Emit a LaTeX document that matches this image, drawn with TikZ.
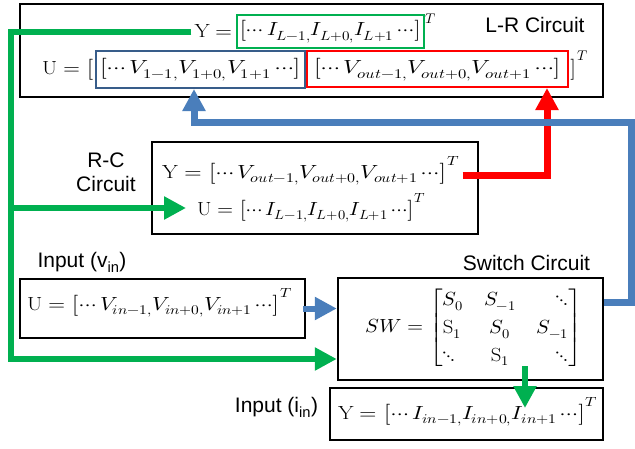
\documentclass[tikz,border=0pt]{standalone}
\usepackage{unicode-math}
\usepackage{graphicx}
\setmathfont{Latin Modern Math}
\newfontfamily\lab{Liberation Sans}
\usetikzlibrary{arrows.meta}
\definecolor{gg}{RGB}{0,176,80}
\definecolor{bb}{RGB}{74,126,187}
\definecolor{bdark}{RGB}{56,93,138}
\definecolor{rr}{RGB}{255,0,0}
\newcommand{\mfont}{\fontsize{19}{23}\selectfont}
\newcommand{\hs}[2]{\scalebox{#1}[1]{#2}}
\begin{document}
\begin{tikzpicture}[x=1pt,y=-1pt,
  frame/.style={draw=black, line width=2.5pt, inner sep=0pt},
  ibox/.style={line width=2pt, inner sep=0pt},
  lbl/.style={font=\lab\fontsize{21}{24}\selectfont, inner sep=0pt},
  mth/.style={font=\mfont, inner sep=0pt},
  tsup/.style={font=\fontsize{14}{16}\selectfont, inner sep=0pt},
  conn/.style={line width=6pt},
  tip/.style={-{Triangle[length=22pt,width=22pt]}}]
\path[use as bounding box] (0,0) rectangle (635,448);
% L-R circuit
\node[frame, minimum width=583pt, minimum height=93pt] (lr) at (311.5,50.5) {};
\node[lbl] (lrlab) at (535,25) {L-R Circuit};
\node[ibox, draw=gg, minimum width=187pt, minimum height=33pt, mth] (gbox) at (330.5,31.5) {\hs{1.13}{$\bigl[\cdots I_{L-1,}I_{L+0,}I_{L+1}\cdots\bigr]$}};
\node[mth, anchor=east] (yL) at (233,31.5) {\hs{1.15}{$\mathrm{Y}=$}};
\node[tsup] (yT) at (431,19) {$T$};
\node[ibox, draw=bdark, minimum width=209pt, minimum height=37pt, mth] (bbox) at (200.5,69.5) {\hs{1.25}{$\bigl[\cdots V_{1-1,}V_{1+0,}V_{1+1}\cdots\bigr]$}};
\node[ibox, draw=rr, minimum width=261pt, minimum height=36pt, mth] (rbox) at (437.5,69) {\hs{1.25}{$\bigl[\cdots V_{out-1,}V_{out+0,}V_{out+1}\cdots\bigr]$}};
\node[mth, anchor=east] (uL) at (94,69.5) {\hs{1.15}{$\mathrm{U}=\bigl[$}};
\node[mth, anchor=west] (uR) at (570,69.5) {$\bigr]$};
\node[tsup] (uT) at (583,56) {$T$};
% R-C circuit
\node[frame, minimum width=326pt, minimum height=92pt] (rc) at (315,188) {};
\node[lbl, align=center] (rclab) at (106,172) {R-C\\Circuit};
\node[mth, anchor=west] (rcY) at (162,171) {\hs{1.2}{$\mathrm{Y}=\bigl[\cdots V_{out-1,}V_{out+0,}V_{out+1}\cdots\bigr]^T$}};
\node[mth, anchor=west] (rcU) at (197,208) {\hs{1.09}{$\mathrm{U}=\bigl[\cdots I_{L-1,}I_{L+0,}I_{L+1}\cdots\bigr]^T$}};
% input v
\node[lbl] (vinlab) at (82,262) {Input (v\textsubscript{in})};
\node[frame, minimum width=285pt, minimum height=59pt] (vin) at (162.5,308.5) {};
\node[mth, anchor=west] (vinU) at (27,303) {\hs{1.16}{$\mathrm{U}=\bigl[\cdots V_{in-1,}V_{in+0,}V_{in+1}\cdots\bigr]^T$}};
% switch
\node[lbl] (swlab) at (526.5,263) {Switch Circuit};
\node[frame, minimum width=265pt, minimum height=102pt] (sw) at (470.5,329) {};
\node[mth, anchor=west] (swM) at (365,328) {\renewcommand{\arraystretch}{1.2}\hs{1.09}{$SW=\left[\begin{array}{@{}l@{\quad}c@{\quad}r@{}} S_0 & S_{-1} & \ddots\\ \mathrm{S}_1 & S_0 & S_{-1}\\ \ddots & \mathrm{S}_1 & \ddots\end{array}\right]$}};
% input i
\node[lbl] (iinlab) at (276.5,407) {Input (i\textsubscript{in})};
\node[frame, minimum width=273pt, minimum height=52pt] (iin) at (466.5,414) {};
\node[mth, anchor=west] (iinY) at (338,412) {\hs{1.18}{$\mathrm{Y}=\bigl[\cdots I_{in-1,}I_{in+0,}I_{in+1}\cdots\bigr]^T$}};
% connectors
\coordinate (gB) at (11,31.5);
\coordinate (gC) at (11,359);
\coordinate (rX) at (547,0);
\coordinate (bR) at (631,122);
\coordinate (bX) at (194,0);
\coordinate (gD) at (525,366);
\coordinate (gE) at (525,408);
\draw[conn, gg, tip] ([xshift=-3pt]yL.west) -- (gB) -- (gC) -- (gC -| sw.west);
\draw[conn, gg, tip] (gB |- rcU.west) -- ([xshift=-11pt]rcU.west);
\draw[conn, rr, tip, line width=7pt] ([xshift=3pt,yshift=-4pt]rcY.east) -| (rbox.south -| rX);
\draw[conn, bb, tip, line width=7pt] ([yshift=27pt]sw.east) -| (bR) -| (bbox.south -| bX);
\draw[conn, bb, tip] ([xshift=-3pt]vin.east) -- (vin.east -| sw.west);
\draw[conn, gg, tip] (gD) -- (gE);
\end{tikzpicture}
\end{document}
